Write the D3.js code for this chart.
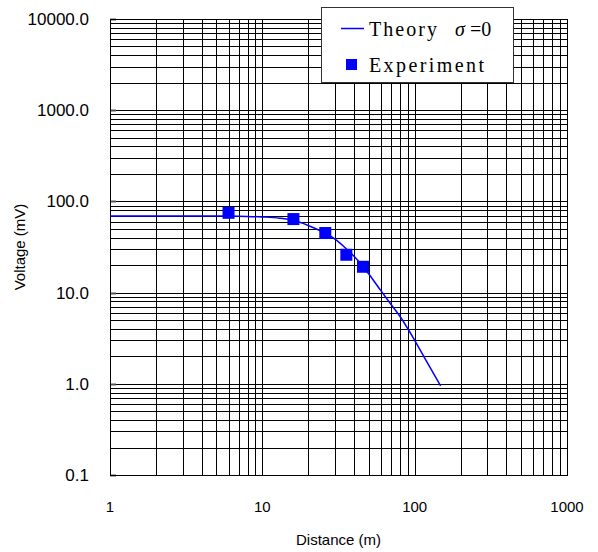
<!DOCTYPE html>
<html lang="en">
<head>
    <meta charset="UTF-8">
    <title>Voltage vs Distance</title>
    <script src="https://d3js.org/d3.v7.min.js"></script>
    <style>
        body { margin: 0; background: white; }
        text { font-family: Arial, "Liberation Sans", sans-serif; fill: black; }
        .legend text { font-family: "Liberation Serif", "Times New Roman", serif; }
    </style>
</head>
<body>
    <script>
        // Theory curve (sigma = 0)
        const theoryDist = [1, 3, 6, 8, 10, 13, 16, 20, 25, 30, 35, 40, 45, 50, 60, 70, 80, 100, 120, 148];
        const theoryVolt = [69, 69, 69, 68.5, 67.5, 65.5, 62, 54.5, 46, 38.5, 31, 25, 20, 16, 10.5, 7.4, 5.5, 3.0, 1.75, 0.95];

        // Experiment points
        const expDist = [6.0, 16.0, 25.9, 35.6, 45.8];
        const expVolt = [75, 64, 45, 26, 19.2];

        const xTicks = [1, 10, 100, 1000];
        const yTicks = [0.1, 1, 10, 100, 1000, 10000];

        const width = 598;
        const height = 552;
        const margin = {top: 19, right: 31, bottom: 77, left: 110};

        const svg = d3.select("body")
            .append("svg")
            .attr("width", width)
            .attr("height", height);

        const x = d3.scaleLog()
            .domain([1, 1000])
            .range([margin.left, width - margin.right]);

        const y = d3.scaleLog()
            .domain([0.1, 10000])
            .range([height - margin.bottom, margin.top]);

        // all grid values 1..9 per decade
        const gridX = [];
        for (let e = 0; e < 3; e++) for (let m = 1; m <= 9; m++) gridX.push(m * Math.pow(10, e));
        gridX.push(1000);
        const gridY = [];
        for (let e = -1; e < 4; e++) for (let m = 1; m <= 9; m++) gridY.push(+(m * Math.pow(10, e)).toPrecision(3));
        gridY.push(10000);

        const grid = svg.append("g")
            .attr("stroke", "black")
            .attr("stroke-width", 1);

        grid.selectAll(".gx")
            .data(gridX)
            .enter()
            .append("line")
            .attr("x1", d => Math.round(x(d)) + 0.5)
            .attr("x2", d => Math.round(x(d)) + 0.5)
            .attr("y1", y(0.1))
            .attr("y2", y(10000));

        grid.selectAll(".gy")
            .data(gridY)
            .enter()
            .append("line")
            .attr("x1", x(1))
            .attr("x2", x(1000))
            .attr("y1", d => Math.round(y(d)) + 0.5)
            .attr("y2", d => Math.round(y(d)) + 0.5);

        // short ticks inside the left border at decades
        grid.selectAll(".tk")
            .data(yTicks)
            .enter()
            .append("line")
            .attr("stroke", "#555")
            .attr("stroke-width", 2)
            .attr("x1", x(1))
            .attr("x2", x(1) + 6)
            .attr("y1", d => Math.round(y(d)) + 0.5)
            .attr("y2", d => Math.round(y(d)) + 0.5);

        // plot border
        svg.append("rect")
            .attr("x", Math.round(x(1)) + 0.5)
            .attr("y", Math.round(y(10000)) + 0.5)
            .attr("width", Math.round(x(1000)) - Math.round(x(1)))
            .attr("height", Math.round(y(0.1)) - Math.round(y(10000)))
            .attr("fill", "none")
            .attr("stroke", "black")
            .attr("stroke-width", 1);

        // tick labels
        svg.selectAll(".xl")
            .data(xTicks)
            .enter()
            .append("text")
            .attr("x", d => x(d))
            .attr("y", y(0.1) + 37)
            .attr("text-anchor", "middle")
            .style("font-size", "15px")
            .text(d => d);

        svg.selectAll(".yl")
            .data(yTicks)
            .enter()
            .append("text")
            .attr("x", x(1) - 21)
            .attr("y", d => y(d) + 6)
            .attr("text-anchor", "end")
            .style("font-size", "17px")
            .text(d => d3.format(".1f")(d));

        // axis titles
        svg.append("text")
            .attr("x", (x(1) + x(1000)) / 2)
            .attr("y", 545)
            .attr("text-anchor", "middle")
            .style("font-size", "15px")
            .text("Distance (m)");

        svg.append("text")
            .attr("transform", `translate(25, ${(y(0.1) + y(10000)) / 2}) rotate(-90)`)
            .attr("text-anchor", "middle")
            .style("font-size", "15px")
            .text("Voltage (mV)");

        // theory line
        const theory = theoryDist.map((d, i) => [d, theoryVolt[i]]);
        const line = d3.line()
            .x(d => x(d[0]))
            .y(d => y(d[1]))
            .curve(d3.curveMonotoneX);

        svg.append("path")
            .datum(theory)
            .attr("d", line)
            .attr("fill", "none")
            .attr("stroke", "#0000ff")
            .attr("stroke-width", 1.5);

        // experiment points
        const exp = expDist.map((d, i) => [d, expVolt[i]]);
        svg.selectAll(".pt")
            .data(exp)
            .enter()
            .append("rect")
            .attr("x", d => x(d[0]) - 6)
            .attr("y", d => y(d[1]) - 6)
            .attr("width", 12)
            .attr("height", 12)
            .attr("fill", "#0000ff");

        // legend
        const legend = svg.append("g")
            .attr("class", "legend")
            .attr("transform", "translate(321, 7)");

        legend.append("rect")
            .attr("x", 0.5)
            .attr("y", 0.5)
            .attr("width", 192)
            .attr("height", 75)
            .attr("fill", "white")
            .attr("stroke", "#333")
            .attr("stroke-width", 1);

        legend.append("line")
            .attr("x1", 20)
            .attr("x2", 43)
            .attr("y1", 21.5)
            .attr("y2", 21.5)
            .attr("stroke", "#0000ff")
            .attr("stroke-width", 1.5);

        legend.append("text")
            .attr("x", 48)
            .attr("y", 29)
            .attr("textLength", 68)
            .attr("lengthAdjust", "spacing")
            .style("font-size", "20px")
            .text("Theory");

        legend.append("text")
            .attr("x", 134)
            .attr("y", 29)
            .style("font-size", "20px")
            .html('<tspan font-style="italic">σ</tspan> =0');

        legend.append("rect")
            .attr("x", 25)
            .attr("y", 52)
            .attr("width", 11)
            .attr("height", 11)
            .attr("fill", "#0000ff");

        legend.append("text")
            .attr("x", 48)
            .attr("y", 65)
            .attr("textLength", 115)
            .attr("lengthAdjust", "spacing")
            .style("font-size", "20px")
            .text("Experiment");
    </script>
</body>
</html>
